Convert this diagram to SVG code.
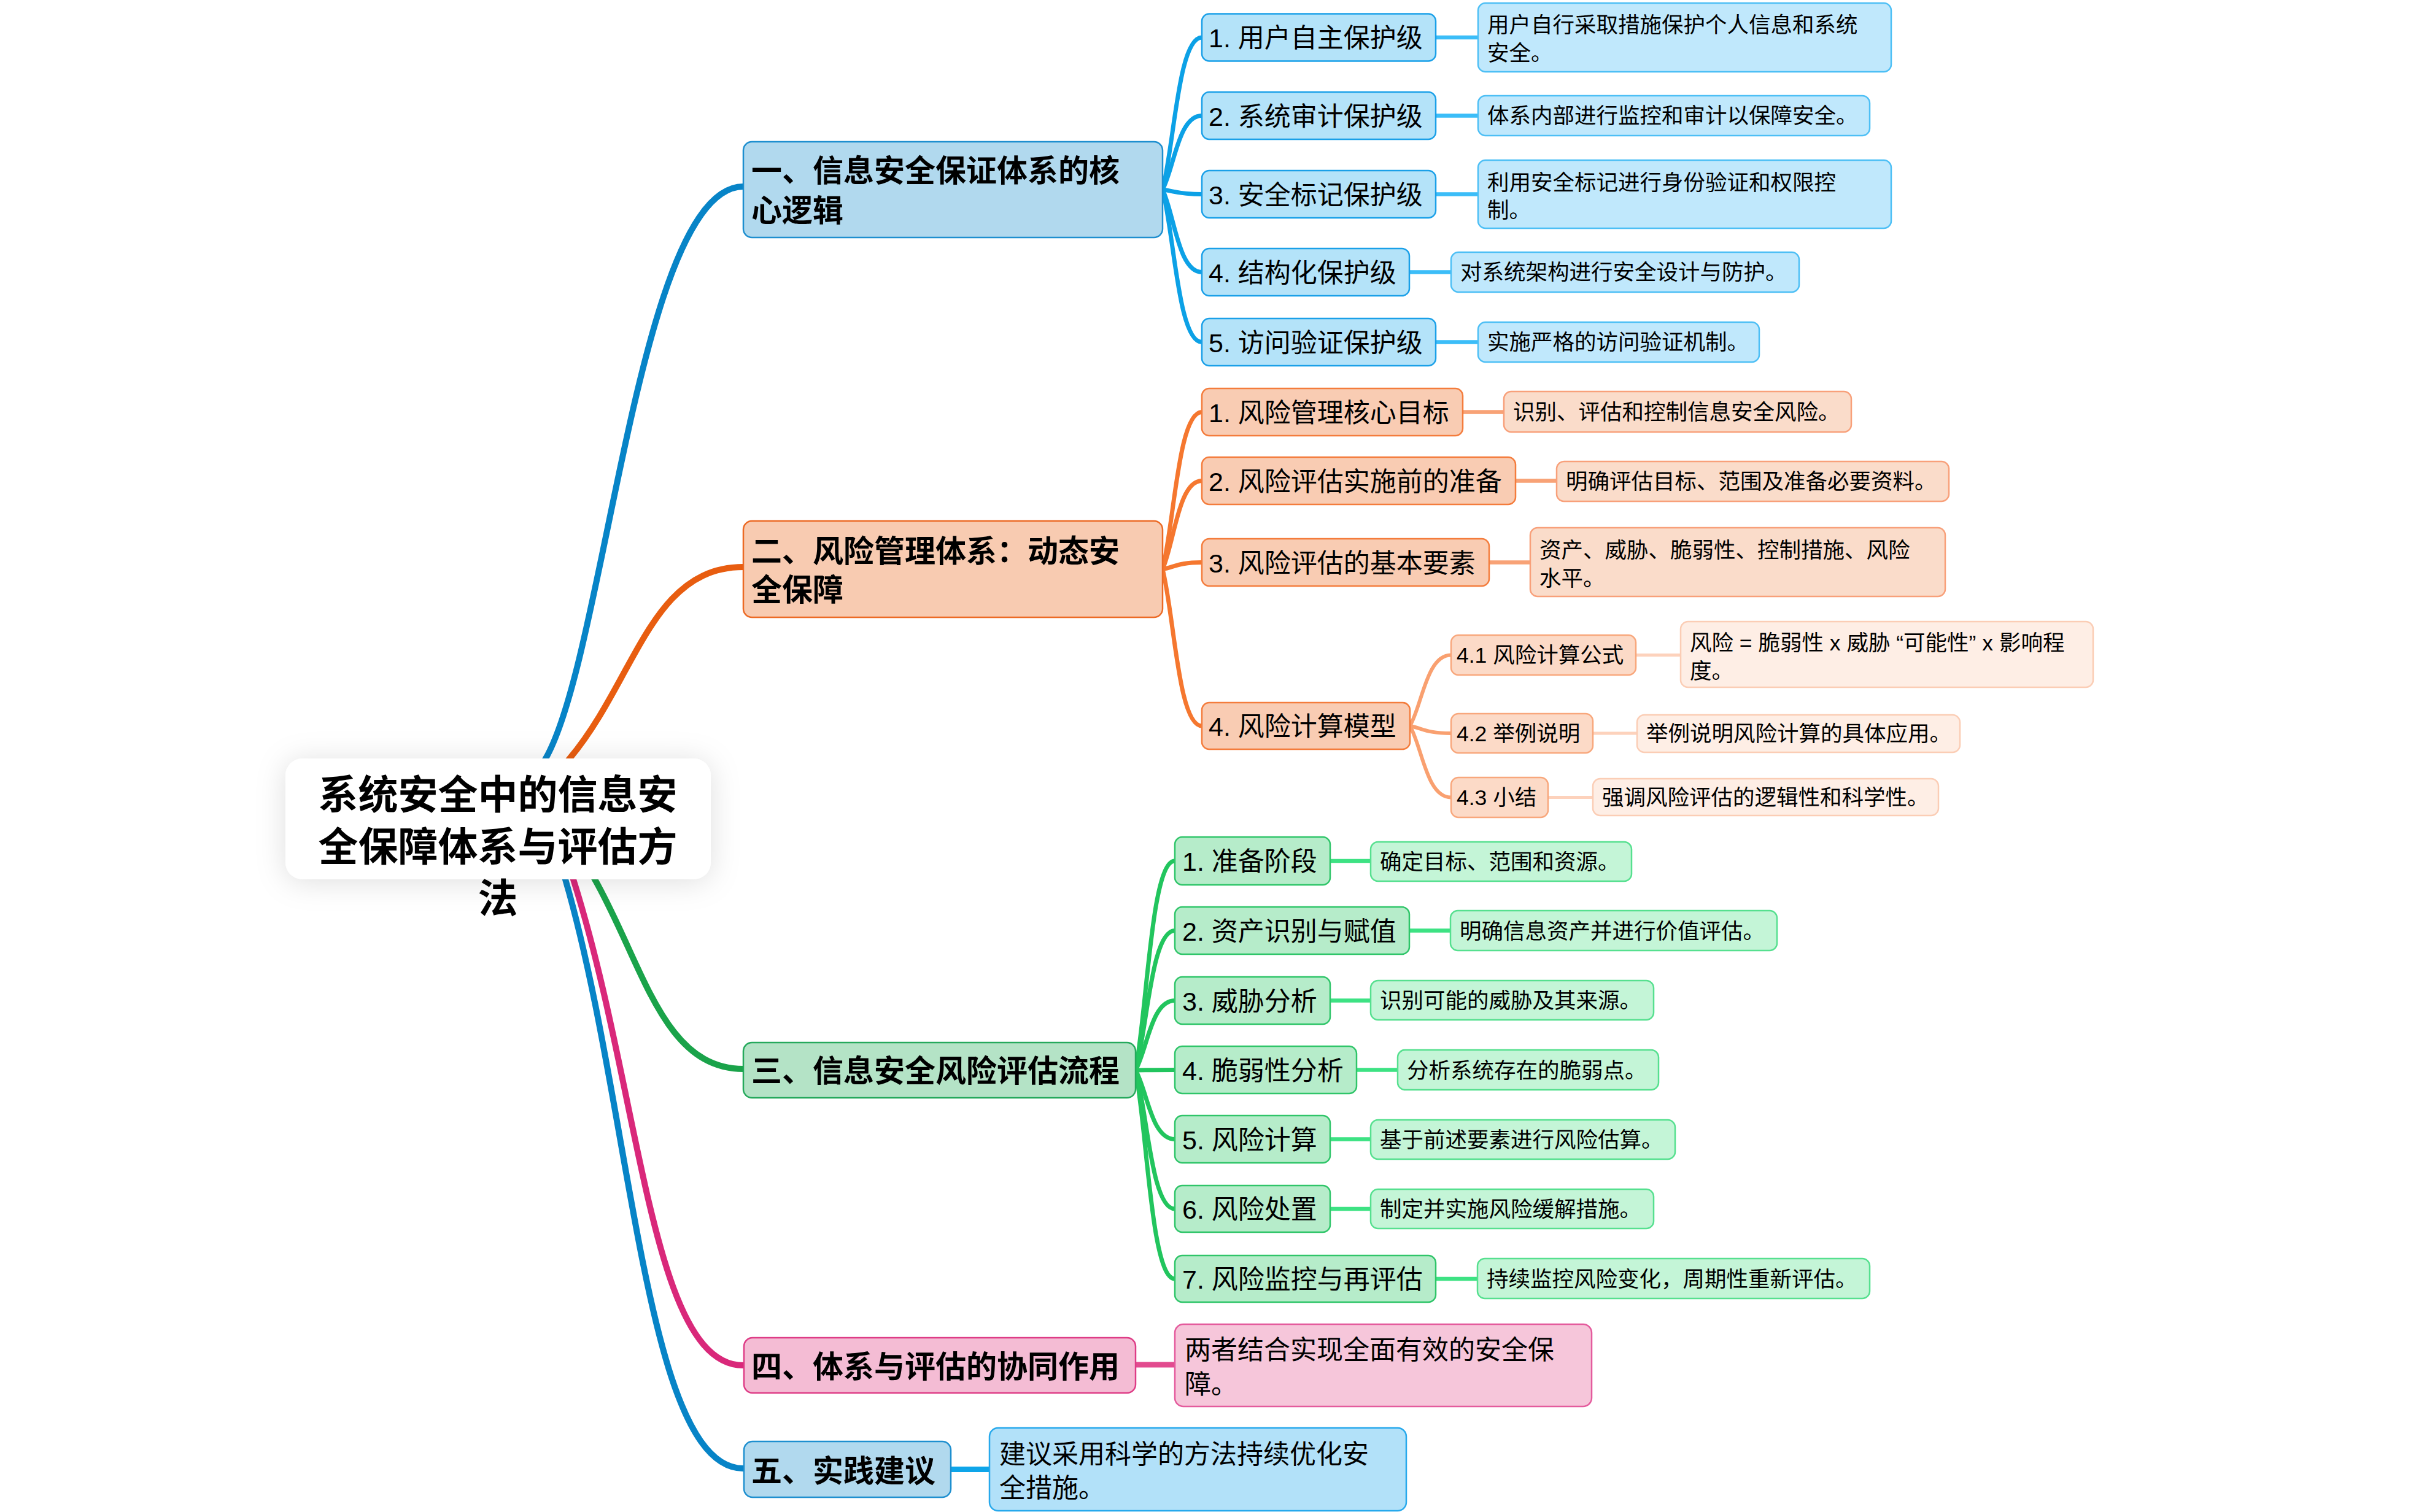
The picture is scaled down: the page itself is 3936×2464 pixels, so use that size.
<svg xmlns="http://www.w3.org/2000/svg" width="3936" height="2464" viewBox="0 0 3936 2464">
<defs>
<filter id="sh" x="-30%" y="-50%" width="160%" height="200%">
<feDropShadow dx="0" dy="4" stdDeviation="24" flood-color="#000" flood-opacity="0.13"/>
</filter>
<style>
text{font-family:"Liberation Sans","Noto Sans CJK SC",sans-serif;fill:#000}
.rt{font-size:65px;font-weight:700;text-anchor:middle}
.l1t{font-size:50px;font-weight:700}
.l2t{font-size:43px}
.dt{font-size:35.5px}
.st{font-size:35.5px}
.bt{font-size:43px}
rect{stroke-width:2.5}
.root{fill:#fff;stroke:none}
.b1{fill:#b1d9ee;stroke:#1e8fcf}
.b2{fill:#b4e3f9;stroke:#1aa0e8}
.b3{fill:#c0e8fc;stroke:#4dbff5}
.o1{fill:#f8cbb1;stroke:#ec6a25}
.o2{fill:#f9ccb3;stroke:#f47c3c}
.o3{fill:#fadcca;stroke:#f8a07a}
.o4{fill:#fcdac7;stroke:#f8a77c}
.o5{fill:#feeee5;stroke:#fbcdb5}
.g1{fill:#b4e3c6;stroke:#25a95c}
.g2{fill:#b6ecca;stroke:#2fc569}
.g3{fill:#c4f5d7;stroke:#56e08f}
.p1{fill:#f4bcd4;stroke:#de3c86}
.p2{fill:#f6c6da;stroke:#e45b9d}
.b5d{fill:#b2e1f9;stroke:#27a9ec}
path{fill:none;stroke-linecap:round}
.m{stroke-width:10}
.c2{stroke-width:7}
.c3{stroke-width:6.5}
.c4{stroke-width:6}
.c5{stroke-width:5}
</style>
</defs>

<g id="connectors">
<path class="m" stroke="#0784c7" d="M 880 1252 L 889 1236 C 987 1064 1040 304 1211 304"/>
<path class="m" stroke="#e85d10" d="M 918 1248 L 928 1236 C 1036 1107 1060 924 1211 924"/>
<path class="m" stroke="#1aa34a" d="M 960 1417 L 969 1433 C 1048 1573 1080 1742 1211 1742"/>
<path class="m" stroke="#d9287a" d="M 929 1417 L 934 1433 C 1045 1784 1060 2225 1211 2225"/>
<path class="m" stroke="#0784c7" d="M 916 1417 L 921 1433 C 1030 1807 1050 2393 1211 2393"/>

<g stroke="#0ca1e6" class="c2">
<path d="M 1894 309 C 1913.2 234.6 1919.6 61 1958 61"/>
<path d="M 1894 309 C 1913.2 272.9 1919.6 188.5 1958 188.5"/>
<path d="M 1894 309 C 1913.2 311.3 1919.6 316.5 1958 316.5"/>
<path d="M 1894 309 C 1913.2 349.4 1919.6 443.5 1958 443.5"/>
<path d="M 1894 309 C 1913.2 383.6 1919.6 557.5 1958 557.5"/>
</g>
<g stroke="#f5772f" class="c2">
<path d="M 1894 927.5 C 1913.2 850.7 1919.6 671.5 1958 671.5"/>
<path d="M 1894 927.5 C 1913.2 884.3 1919.6 783.5 1958 783.5"/>
<path d="M 1894 927.5 C 1913.2 924.2 1919.6 916.5 1958 916.5"/>
<path d="M 1894 927.5 C 1913.2 1004.2 1919.6 1183 1958 1183"/>
</g>
<g stroke="#22c55e" class="c2">
<path d="M 1850 1744 C 1869.2 1641.7 1875.6 1403 1914 1403"/>
<path d="M 1850 1744 C 1869.2 1675.75 1875.6 1516.5 1914 1516.5"/>
<path d="M 1850 1744 C 1869.2 1709.95 1875.6 1630.5 1914 1630.5"/>
<path d="M 1850 1744 C 1869.2 1743.85 1875.6 1743.5 1914 1743.5"/>
<path d="M 1850 1744 C 1869.2 1777.75 1875.6 1856.5 1914 1856.5"/>
<path d="M 1850 1744 C 1869.2 1811.8 1875.6 1970 1914 1970"/>
<path d="M 1850 1744 C 1869.2 1846 1875.6 2084 1914 2084"/>
</g>
<g stroke="#f9a070" class="c4">
<path d="M 2297 1183 C 2317.1 1148.35 2323.8 1067.5 2364 1067.5"/>
<path d="M 2297 1183 C 2317.1 1186.6 2323.8 1195 2364 1195"/>
<path d="M 2297 1183 C 2317.1 1217.95 2323.8 1299.5 2364 1299.5"/>
</g>
<g stroke="#3bbdf8" class="c3">
<path d="M 2339 61 H 2408"/>
<path d="M 2339 188.5 H 2408"/>
<path d="M 2339 316.5 H 2408"/>
<path d="M 2296 443.5 H 2364"/>
<path d="M 2339 557.5 H 2408"/>
</g>
<g stroke="#f8a276" class="c3">
<path d="M 2383 671.5 H 2450"/>
<path d="M 2469 783.5 H 2536"/>
<path d="M 2426 916.5 H 2493"/>
</g>
<g stroke="#fdd2bc" class="c5">
<path d="M 2665 1067.5 H 2738"/>
<path d="M 2595 1195 H 2667"/>
<path d="M 2522 1299.5 H 2595"/>
</g>
<g stroke="#3de283" class="c3">
<path d="M 2167 1403 H 2233"/>
<path d="M 2296 1516.5 H 2363"/>
<path d="M 2167 1630.5 H 2233"/>
<path d="M 2210 1743.5 H 2277"/>
<path d="M 2167 1856.5 H 2233"/>
<path d="M 2167 1970 H 2233"/>
<path d="M 2339 2084 H 2407"/>
</g>
<path stroke="#e24b8f" stroke-width="9" d="M 1850 2224 H 1914"/>
<path stroke="#0ea5e9" stroke-width="9" d="M 1549 2394.5 H 1612"/>
</g>

<g id="root">
<rect class="root" x="465" y="1236" width="693" height="197" rx="28" filter="url(#sh)"/>
<text class="rt" x="811" y="1318">系统安全中的信息安</text>
<text class="rt" x="811" y="1403">全保障体系与评估方</text>
<text class="rt" x="811" y="1487">法</text>
</g>

<g id="n1">
<rect class="b1" x="1211" y="231" width="683" height="156" rx="14"/>
<text class="l1t" x="1224" y="296">一、信息安全保证体系的核</text>
<text class="l1t" x="1224" y="361">心逻辑</text>
</g>
<g id="n1-1"><rect class="b2" x="1958" y="22.5" width="381" height="77" rx="12"/><text class="l2t" x="1969" y="77">1. 用户自主保护级</text></g>
<g id="n1-2"><rect class="b2" x="1958" y="150" width="381" height="77" rx="12"/><text class="l2t" x="1969" y="204.5">2. 系统审计保护级</text></g>
<g id="n1-3"><rect class="b2" x="1958" y="278" width="381" height="77" rx="12"/><text class="l2t" x="1969" y="332.5">3. 安全标记保护级</text></g>
<g id="n1-4"><rect class="b2" x="1958" y="405" width="338" height="77" rx="12"/><text class="l2t" x="1969" y="459.5">4. 结构化保护级</text></g>
<g id="n1-5"><rect class="b2" x="1958" y="519" width="381" height="77" rx="12"/><text class="l2t" x="1969" y="573.5">5. 访问验证保护级</text></g>
<g id="d1-1"><rect class="b3" x="2408" y="5" width="673" height="112" rx="12"/><text class="dt" x="2423" y="53">用户自行采取措施保护个人信息和系统</text><text class="dt" x="2423" y="99">安全。</text></g>
<g id="d1-2"><rect class="b3" x="2408" y="156" width="638" height="65" rx="12"/><text class="dt" x="2423" y="201">体系内部进行监控和审计以保障安全。</text></g>
<g id="d1-3"><rect class="b3" x="2408" y="261" width="673" height="111" rx="12"/><text class="dt" x="2423" y="310">利用安全标记进行身份验证和权限控</text><text class="dt" x="2423" y="355">制。</text></g>
<g id="d1-4"><rect class="b3" x="2364" y="411" width="567" height="65" rx="12"/><text class="dt" x="2379" y="456">对系统架构进行安全设计与防护。</text></g>
<g id="d1-5"><rect class="b3" x="2408" y="525" width="458" height="65" rx="12"/><text class="dt" x="2423" y="570">实施严格的访问验证机制。</text></g>

<g id="n2">
<rect class="o1" x="1211" y="849" width="683" height="157" rx="14"/>
<text class="l1t" x="1224" y="916">二、风险管理体系：动态安</text>
<text class="l1t" x="1224" y="979">全保障</text>
</g>
<g id="n2-1"><rect class="o2" x="1958" y="633" width="425" height="77" rx="12"/><text class="l2t" x="1969" y="687.5">1. 风险管理核心目标</text></g>
<g id="n2-2"><rect class="o2" x="1958" y="745" width="511" height="77" rx="12"/><text class="l2t" x="1969" y="799.5">2. 风险评估实施前的准备</text></g>
<g id="n2-3"><rect class="o2" x="1958" y="878" width="468" height="77" rx="12"/><text class="l2t" x="1969" y="932.5">3. 风险评估的基本要素</text></g>
<g id="n2-4"><rect class="o2" x="1958" y="1145" width="339" height="76" rx="12"/><text class="l2t" x="1969" y="1199">4. 风险计算模型</text></g>
<g id="d2-1"><rect class="o3" x="2450" y="638" width="566" height="66" rx="12"/><text class="dt" x="2465" y="684">识别、评估和控制信息安全风险。</text></g>
<g id="d2-2"><rect class="o3" x="2536" y="752" width="639" height="65" rx="12"/><text class="dt" x="2551" y="797">明确评估目标、范围及准备必要资料。</text></g>
<g id="d2-3"><rect class="o3" x="2493" y="860" width="676" height="112" rx="12"/><text class="dt" x="2508" y="909">资产、威胁、脆弱性、控制措施、风险</text><text class="dt" x="2508" y="955">水平。</text></g>
<g id="n2-4-1"><rect class="o4" x="2364" y="1035" width="301" height="65" rx="12"/><text class="st" x="2373" y="1080">4.1 风险计算公式</text></g>
<g id="n2-4-2"><rect class="o4" x="2364" y="1163" width="231" height="64" rx="12"/><text class="st" x="2373" y="1208">4.2 举例说明</text></g>
<g id="n2-4-3"><rect class="o4" x="2364" y="1267" width="158" height="65" rx="12"/><text class="st" x="2373" y="1312">4.3 小结</text></g>
<g id="d2-4-1"><rect class="o5" x="2738" y="1013" width="672" height="107" rx="12"/><text class="dt" x="2753" y="1060">风险 = 脆弱性 x 威胁 “可能性” x 影响程</text><text class="dt" x="2753" y="1106">度。</text></g>
<g id="d2-4-2"><rect class="o5" x="2667" y="1165" width="526" height="61" rx="12"/><text class="dt" x="2682" y="1208">举例说明风险计算的具体应用。</text></g>
<g id="d2-4-3"><rect class="o5" x="2595" y="1269" width="563" height="60" rx="12"/><text class="dt" x="2610" y="1312">强调风险评估的逻辑性和科学性。</text></g>

<g id="n3">
<rect class="g1" x="1211" y="1699" width="639" height="90" rx="14"/>
<text class="l1t" x="1224" y="1763">三、信息安全风险评估流程</text>
</g>
<g id="n3-1"><rect class="g2" x="1914" y="1364" width="253" height="78" rx="12"/><text class="l2t" x="1926" y="1419">1. 准备阶段</text></g>
<g id="n3-2"><rect class="g2" x="1914" y="1478" width="382" height="77" rx="12"/><text class="l2t" x="1926" y="1532.5">2. 资产识别与赋值</text></g>
<g id="n3-3"><rect class="g2" x="1914" y="1592" width="253" height="77" rx="12"/><text class="l2t" x="1926" y="1646.5">3. 威胁分析</text></g>
<g id="n3-4"><rect class="g2" x="1914" y="1705" width="296" height="77" rx="12"/><text class="l2t" x="1926" y="1759.5">4. 脆弱性分析</text></g>
<g id="n3-5"><rect class="g2" x="1914" y="1818" width="253" height="77" rx="12"/><text class="l2t" x="1926" y="1872.5">5. 风险计算</text></g>
<g id="n3-6"><rect class="g2" x="1914" y="1932" width="253" height="76" rx="12"/><text class="l2t" x="1926" y="1986">6. 风险处置</text></g>
<g id="n3-7"><rect class="g2" x="1914" y="2046" width="425" height="76" rx="12"/><text class="l2t" x="1926" y="2100">7. 风险监控与再评估</text></g>
<g id="d3-1"><rect class="g3" x="2233" y="1372" width="425" height="64" rx="12"/><text class="dt" x="2248" y="1417">确定目标、范围和资源。</text></g>
<g id="d3-2"><rect class="g3" x="2363" y="1484" width="532" height="65" rx="12"/><text class="dt" x="2378" y="1529.5">明确信息资产并进行价值评估。</text></g>
<g id="d3-3"><rect class="g3" x="2233" y="1598" width="461" height="64" rx="12"/><text class="dt" x="2248" y="1643">识别可能的威胁及其来源。</text></g>
<g id="d3-4"><rect class="g3" x="2277" y="1711" width="425" height="65" rx="12"/><text class="dt" x="2292" y="1756.5">分析系统存在的脆弱点。</text></g>
<g id="d3-5"><rect class="g3" x="2233" y="1825" width="496" height="64" rx="12"/><text class="dt" x="2248" y="1870">基于前述要素进行风险估算。</text></g>
<g id="d3-6"><rect class="g3" x="2233" y="1938" width="461" height="64" rx="12"/><text class="dt" x="2248" y="1983">制定并实施风险缓解措施。</text></g>
<g id="d3-7"><rect class="g3" x="2407" y="2051" width="639" height="65" rx="12"/><text class="dt" x="2422" y="2096.5">持续监控风险变化，周期性重新评估。</text></g>

<g id="n4">
<rect class="p1" x="1212" y="2180" width="638" height="90" rx="14"/>
<text class="l1t" x="1224" y="2245">四、体系与评估的协同作用</text>
</g>
<g id="d4"><rect class="p2" x="1914" y="2158" width="679" height="134" rx="14"/><text class="bt" x="1930" y="2215">两者结合实现全面有效的安全保</text><text class="bt" x="1930" y="2271">障。</text></g>

<g id="n5">
<rect class="b1" x="1212" y="2349" width="337" height="91" rx="14"/>
<text class="l1t" x="1224" y="2415">五、实践建议</text>
</g>
<g id="d5"><rect class="b5d" x="1612" y="2327" width="679" height="135" rx="14"/><text class="bt" x="1628" y="2385">建议采用科学的方法持续优化安</text><text class="bt" x="1628" y="2440">全措施。</text></g>
</svg>
